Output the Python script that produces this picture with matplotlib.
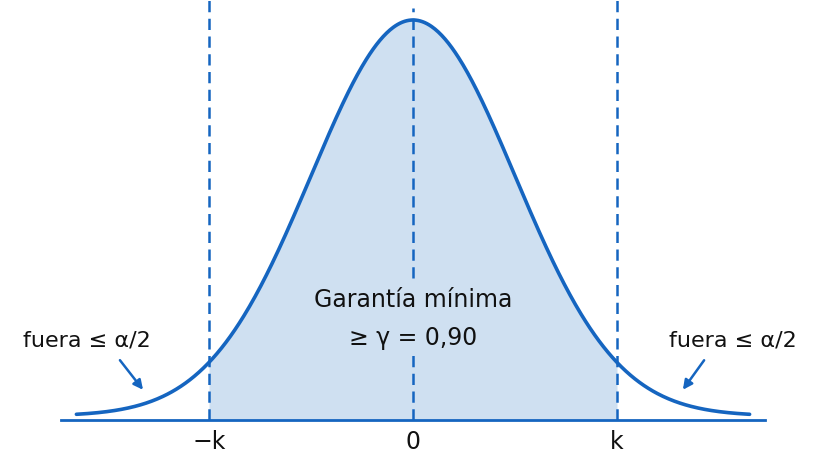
"""Normal curve with the central region between -k and k shaded."""

import matplotlib.pyplot as plt
import numpy as np

# values in units of sigma, heights relative to the peak
K = 2.0
TAIL = 3.3
AXIS_EXTENT = 3.45
FLOOR = 0.01
tick_pos = [-K, 0.0, K]
tick_labels = ["\u2212k", "0", "k"]
center_text = "Garantía mínima\n\u2265 \u03b3 = 0,90"
side_text = "fuera \u2264 \u03b1/2"

BLUE = "#1565c0"
SHADE = "#cfe0f1"


def curve(x):
    return FLOOR + (1 - FLOOR) * np.exp(-x**2 / 2)


def main() -> None:
    plt.rcParams["font.family"] = "DejaVu Sans"
    fig = plt.figure(figsize=(8.2, 4.55), dpi=100)
    ax = fig.add_axes([0, 0, 1, 1])
    ax.set_xlim(-413 / 102, 407 / 102)
    ax.set_ylim(-35 / 400, 420 / 400)
    ax.axis("off")

    x = np.linspace(-TAIL, TAIL, 600)
    xs = np.linspace(-K, K, 300)
    ax.fill_between(xs, 0, curve(xs), color=SHADE, lw=0, zorder=1)
    ax.plot(x, curve(x), color=BLUE, lw=2.6, solid_capstyle="round", zorder=4)
    ax.plot([-AXIS_EXTENT, AXIS_EXTENT], [0, 0], color=BLUE, lw=2, zorder=3)

    for xv in (-K, K):
        ax.plot([xv, xv], [0, 1.06], color=BLUE, lw=1.8, ls=(0, (4.5, 2.6)), zorder=3)
    ax.plot([0, 0], [0, 1.03], color=BLUE, lw=1.8, ls=(0, (4.5, 2.6)), zorder=3)

    for xv, lab in zip(tick_pos, tick_labels):
        ax.text(xv, -0.055, lab, ha="center", va="center", fontsize=17, color="#111111")

    ax.text(0, 0.252, center_text, ha="center", va="center", fontsize=17,
            linespacing=1.75, color="#111111", zorder=5,
            bbox=dict(facecolor=SHADE, edgecolor="none", pad=4))

    ax.text(-3.2, 0.2, side_text, ha="center", va="center", fontsize=16, color="#111111")
    ax.text(3.14, 0.2, side_text, ha="center", va="center", fontsize=16, color="#111111")
    ax.annotate("", xy=(-2.63, 0.07), xytext=(-2.89, 0.155),
                arrowprops=dict(arrowstyle="-|>", color=BLUE, lw=1.8, mutation_scale=14))
    ax.annotate("", xy=(2.63, 0.07), xytext=(2.87, 0.155),
                arrowprops=dict(arrowstyle="-|>", color=BLUE, lw=1.8, mutation_scale=14))

    fig.savefig("out.png", dpi=100, facecolor="white")


if __name__ == "__main__":
    main()
